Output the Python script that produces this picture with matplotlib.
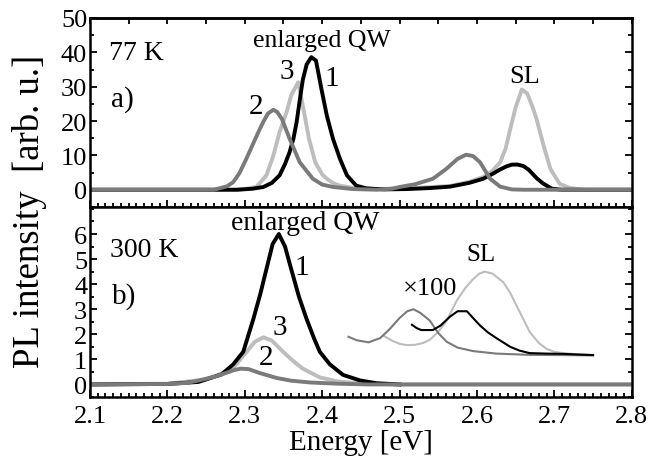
import numpy as np
import matplotlib
matplotlib.use("Agg")
import matplotlib.pyplot as plt
from matplotlib.ticker import MultipleLocator

plt.rcParams['font.family'] = ['Liberation Serif', 'DejaVu Serif']

BLACK = '#000000'
DARK = '#7a7a7a'
LIGHT = '#bdbdbd'

# ---- 77 K (panel a) ----
e1_77 = [2.10, 2.29, 2.31, 2.324, 2.335, 2.345, 2.352, 2.358, 2.363, 2.367, 2.371, 2.375, 2.38,
         2.386, 2.392, 2.399, 2.406, 2.414, 2.423, 2.432, 2.444, 2.457, 2.48, 2.51, 2.54, 2.565,
         2.59, 2.608, 2.62, 2.63, 2.638, 2.645, 2.652, 2.66, 2.667, 2.677, 2.685, 2.69, 2.697,
         2.71, 2.80]
i1_77 = [0, 0, 0.3, 0.8, 2.0, 4.2, 7.5, 11, 15, 19.7, 26, 32, 36.5,
         38.6, 37.6, 29.4, 21.6, 14.8, 9.0, 4.2, 1.2, 0.4, 0.1, 0.2, 0.5, 0.9,
         2.0, 3.2, 4.6, 5.9, 6.8, 7.3, 7.35, 6.9, 5.8, 3.4, 1.9, 1.2, 0.3,
         0, 0]

e2_77 = [2.10, 2.26, 2.277, 2.285, 2.293, 2.302, 2.311, 2.318, 2.324, 2.33, 2.337, 2.342, 2.348,
         2.358, 2.371, 2.388, 2.40, 2.414, 2.44, 2.47, 2.49, 2.50, 2.52, 2.543, 2.56, 2.575,
         2.586, 2.595, 2.604, 2.617, 2.63, 2.645, 2.66, 2.80]
i2_77 = [0, 0, 1.0, 2.2, 4.8, 9.0, 13.5, 17.0, 19.8, 22.2, 23.3, 22.6, 20.6,
         14.8, 8.0, 3.2, 1.5, 0.8, 0.2, 0, 0.3, 0.8, 1.6, 3.2, 6.0, 9.0,
         10.2, 9.8, 8.0, 3.2, 0.9, 0.1, 0, 0]

e3_77 = [2.10, 2.29, 2.30, 2.315, 2.328, 2.337, 2.345, 2.354, 2.36, 2.369, 2.375, 2.383, 2.391,
         2.40, 2.406, 2.415, 2.423, 2.44, 2.47, 2.52, 2.565, 2.59, 2.608, 2.62, 2.63, 2.637,
         2.643, 2.65, 2.658, 2.665, 2.672, 2.677, 2.686, 2.695, 2.707, 2.72, 2.74, 2.80]
i3_77 = [0, 0, 0.2, 0.8, 4.2, 10, 16.8, 22.6, 27.5, 31.3, 24.5, 14.8, 8.0,
         4.5, 3.2, 1.8, 1.2, 0.5, 0.2, 0.5, 1.1, 2.3, 3.7, 5.5, 8.0, 12,
         17.7, 24, 29.2, 28, 24, 20.6, 12.9, 6.0, 1.7, 0.5, 0, 0]

# ---- 300 K (panel b) ----
e1_300 = [2.10, 2.20, 2.24, 2.27, 2.285, 2.298, 2.311, 2.32, 2.328, 2.336, 2.344, 2.352, 2.36,
          2.37, 2.38, 2.39, 2.397, 2.41, 2.427, 2.449, 2.47, 2.50]
i1_300 = [0, 0.02, 0.1, 0.4, 0.8, 1.3, 2.6, 3.6, 4.6, 5.6, 6.0, 5.5, 4.6,
          3.5, 2.6, 1.8, 1.3, 0.8, 0.38, 0.16, 0.05, 0]

e2_300 = [2.10, 2.20, 2.225, 2.242, 2.26, 2.275, 2.287, 2.295, 2.305, 2.32, 2.341, 2.36, 2.384,
          2.42, 2.46, 2.80]
i2_300 = [0, 0.02, 0.06, 0.17, 0.3, 0.45, 0.58, 0.63, 0.61, 0.45, 0.26, 0.15, 0.08,
          0.03, 0, 0]

e3_300 = [2.10, 2.20, 2.25, 2.275, 2.287, 2.302, 2.313, 2.324, 2.335, 2.350, 2.362, 2.375, 2.397,
          2.42, 2.45, 2.50, 2.80]
i3_300 = [0, 0.03, 0.2, 0.5, 0.72, 1.29, 1.7, 1.88, 1.75, 1.29, 0.95, 0.63, 0.28,
          0.12, 0.04, 0, 0]

# x100 SL spectra (scaled, with offset)
e1_sl = [2.516, 2.522, 2.528, 2.543, 2.553, 2.565, 2.575, 2.587, 2.595, 2.604, 2.614, 2.625,
         2.643, 2.655, 2.668, 2.69, 2.711, 2.75]
i1_sl = [2.38, 2.25, 2.17, 2.17, 2.35, 2.7, 2.92, 2.92, 2.65, 2.35, 2.08, 1.85,
         1.5, 1.35, 1.25, 1.23, 1.22, 1.17]

e2_sl = [2.434, 2.445, 2.46, 2.475, 2.487, 2.50, 2.51, 2.518, 2.527, 2.539, 2.55, 2.561,
         2.575, 2.595, 2.625, 2.668, 2.75]
i2_sl = [1.9, 1.76, 1.68, 1.85, 2.2, 2.65, 2.92, 3.0, 2.85, 2.55, 2.05, 1.7,
         1.47, 1.33, 1.23, 1.18, 1.16]

e3_sl = [2.479, 2.49, 2.50, 2.509, 2.52, 2.53, 2.539, 2.55, 2.561, 2.574, 2.585, 2.595, 2.603,
         2.61, 2.62, 2.634, 2.643, 2.651, 2.66, 2.668, 2.68, 2.69, 2.70, 2.711, 2.73, 2.75]
i3_sl = [1.95, 1.75, 1.62, 1.57, 1.58, 1.65, 1.78, 2.1, 2.55, 3.35, 3.85, 4.2, 4.42,
         4.5, 4.42, 4.08, 3.65, 3.15, 2.6, 2.1, 1.65, 1.42, 1.3, 1.25, 1.2, 1.18]

x_ticks = [2.1, 2.2, 2.3, 2.4, 2.5, 2.6, 2.7, 2.8]
x_ticklabels = ['2.1', '2.2', '2.3', '2.4', '2.5', '2.6', '2.7', '2.8']


def style_axis(ax):
    for sp in ax.spines.values():
        sp.set_linewidth(1.8)
    ax.tick_params(which='both', direction='in', width=1.3, labelsize=19, colors='black')
    ax.tick_params(which='major', length=5)
    ax.tick_params(which='minor', length=2.8)


fig = plt.figure(figsize=(6.65, 4.6), dpi=100)
ax1 = fig.add_axes([0.1353, 0.548, 0.8147, 0.4107])
ax2 = fig.add_axes([0.1353, 0.1348, 0.8147, 0.4132])

# panel a
lw = 2.8
ax1.plot(e3_77, i3_77, color=LIGHT, lw=lw)
ax1.plot(e1_77, i1_77, color=BLACK, lw=lw)
ax1.plot(e2_77, i2_77, color=DARK, lw=lw)
ax1.set_xlim(2.1, 2.8)
ax1.set_ylim(-5, 50)
ax1.set_yticks([0, 10, 20, 30, 40, 50])
ax1.yaxis.set_minor_locator(MultipleLocator(5))
ax1.set_xticks(x_ticks)
ax1.xaxis.set_minor_locator(MultipleLocator(0.01))
style_axis(ax1)
ax1.tick_params(axis='x', which='both', labelbottom=False, top=False)
ax1.tick_params(axis='y', which='both', right=True, pad=2)
sec = ax1.secondary_xaxis('top')
sec.set_xticks(np.arange(2.1, 2.801, 0.05))
sec.tick_params(direction='in', length=4, width=1.3, labeltop=False)
sec.spines['top'].set_linewidth(1.8)

ax1.text(2.124, 40, '77 K', fontsize=20, va='center', ha='left')
ax1.text(2.127, 26.5, 'a)', fontsize=21, va='center', ha='left')
ax1.text(2.40, 43.5, 'enlarged QW', fontsize=18.5, va='center', ha='center')
ax1.text(2.354, 34.5, '3', fontsize=21, va='center', ha='center')
ax1.text(2.413, 32.5, '1', fontsize=21, va='center', ha='center')
ax1.text(2.315, 24.5, '2', fontsize=21, va='center', ha='center')
ax1.text(2.662, 33.0, 'SL', fontsize=19, va='center', ha='center')

# panel b
ax2.plot(e3_300, i3_300, color=LIGHT, lw=lw)
ax2.plot(e1_300, i1_300, color=BLACK, lw=lw)
ax2.plot(e2_300, i2_300, color=DARK, lw=lw)
ax2.plot(e3_sl, i3_sl, color=LIGHT, lw=1.5)
ax2.plot(e2_sl, i2_sl, color=DARK, lw=1.5)
ax2.plot(e1_sl, i1_sl, color=BLACK, lw=1.5)
ax2.set_xlim(2.1, 2.8)
ax2.set_ylim(-0.5, 7.08)
ax2.set_yticks([0, 1, 2, 3, 4, 5, 6])
ax2.yaxis.set_minor_locator(MultipleLocator(0.5))
ax2.set_xticks(x_ticks)
ax2.set_xticklabels(x_ticklabels)
ax2.xaxis.set_minor_locator(MultipleLocator(0.01))
style_axis(ax2)
ax2.tick_params(axis='x', which='both', top=False, pad=6)
ax2.tick_params(axis='y', which='both', right=True, pad=2)

ax2.text(2.126, 5.4, '300 K', fontsize=20, va='center', ha='left')
ax2.text(2.129, 3.55, 'b)', fontsize=21, va='center', ha='left')
ax2.text(2.378, 6.45, 'enlarged QW', fontsize=20, va='center', ha='center')
ax2.text(2.374, 4.7, '1', fontsize=21, va='center', ha='center')
ax2.text(2.345, 2.3, '3', fontsize=21, va='center', ha='center')
ax2.text(2.328, 1.1, '2', fontsize=21, va='center', ha='center')
ax2.text(2.539, 3.84, '×100', fontsize=19, va='center', ha='center')
ax2.text(2.605, 5.2, 'SL', fontsize=18, va='center', ha='center')

ax2.set_xlabel('Energy [eV]', fontsize=21, labelpad=1)
fig.text(0.045, 0.54, 'PL intensity  [arb. u.]', rotation=90, fontsize=26.5,
         va='center', ha='center')

fig.savefig('out.png', dpi=100)
